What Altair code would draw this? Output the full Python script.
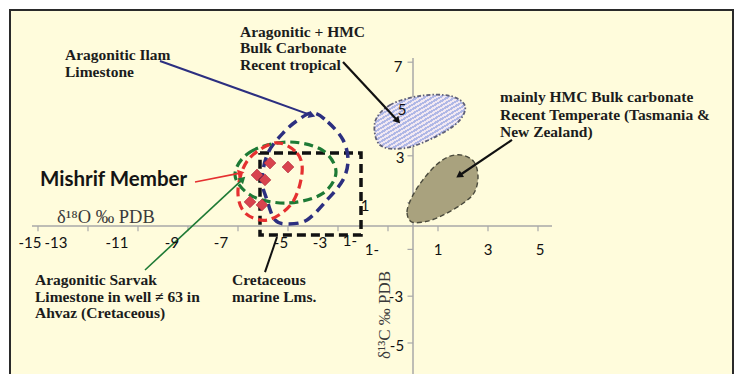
import altair as alt
import numpy as np
import pandas as pd

# ---- scale set-up (data units, axes cross at the origin) ----
W, H = 736, 374
X_DOMAIN = [-16.52, 12.92]
Y_DOMAIN = [-6.325, 9.658]
PX_X = W / (X_DOMAIN[1] - X_DOMAIN[0])
PX_Y = H / (Y_DOMAIN[1] - Y_DOMAIN[0])

xs = alt.Scale(domain=X_DOMAIN, nice=False, zero=False)
ys = alt.Scale(domain=Y_DOMAIN, nice=False, zero=False)

# ---- Mishrif Member samples (d18O, d13C) ----
mishrif_d18o = [-5.72, -5.00, -6.24, -5.92, -6.52, -6.04]
mishrif_d13c = [2.69, 2.52, 2.18, 1.97, 1.03, 0.90]

# ---- field outlines (d18O, d13C vertices) ----
ilam_x = [-4.0, -3.4, -2.8, -2.6, -2.8, -3.44, -4.24, -5.0, -5.52, -5.84, -6.04, -5.8, -5.2, -4.6]
ilam_y = [4.83, 4.44, 3.68, 2.82, 1.97, 1.11, 0.26, 0.09, 0.26, 1.11, 1.97, 3.12, 3.97, 4.53]

sarvak_x = [-7.12, -6.52, -5.04, -3.64, -3.08, -3.64, -5.04, -6.44]
sarvak_y = [2.18, 3.16, 3.59, 3.25, 2.31, 1.37, 0.98, 1.28]

mishrif_x = [-5.52, -4.64, -4.44, -4.84, -5.8, -6.72, -7.0, -6.6]
mishrif_y = [3.55, 3.12, 2.26, 0.98, 0.26, 0.56, 1.54, 2.82]

tropical_x = [-1.52, -0.92, 0.28, 1.48, 2.08, 1.8, 0.88, -0.32, -1.32]
tropical_y = [4.44, 5.17, 5.56, 5.56, 5.13, 4.44, 3.80, 3.33, 3.46]

temperate_x = [-0.04, -0.24, -0.04, 0.36, 0.88, 1.4, 1.96, 2.44, 2.6, 2.44, 1.96, 1.28, 0.6]
temperate_y = [0.17, 0.60, 1.24, 1.92, 2.56, 2.95, 3.03, 2.74, 2.09, 1.41, 0.94, 0.51, 0.21]

cretaceous_x = [-6.12, -2.08, -2.08, -6.12, -6.12]
cretaceous_y = [3.12, 3.12, -0.38, -0.38, 3.12]

# ---- tick labels ----
x_tick_text = ["-15", "-13", "-11", "-9", "-7", "-5", "-3", "1-", "1-", "1", "3", "5"]
x_tick_at = [-15.32, -14.28, -11.84, -9.64, -7.68, -5.28, -3.72, -2.52, -1.64, 1.0, 3.0, 5.08]
x_tick_row = [-0.73, -0.73, -0.73, -0.73, -0.73, -0.73, -0.73, -0.65, -1.03, -1.03, -1.03, -1.03]

y_tick_text = ["7", "5", "3", "1", "-3", "-5"]
y_tick_at = [6.79, 4.96, 2.91, 0.85, -3.03, -5.13]
y_tick_col = [-0.60, -0.44, -0.52, -1.92, -0.68, -0.64]

tick_x_values = [-15, -13, -11, -9, -7, -5, -3, -1, 1, 3, 5]
tick_y_values = [7, 5, 3, 1, -1, -3, -5]
TICK_LEN = 0.22

# ---- annotations ----
note_lines = [
    "Aragonitic Ilam", "Limestone",
    "Aragonitic + HMC", "Bulk Carbonate", "Recent tropical",
    "mainly HMC Bulk carbonate", "Recent Temperate (Tasmania &", "New Zealand)",
    "Aragonitic Sarvak", "Limestone in well \u2260  63 in", "Ahvaz (Cretaceous)",
    "Cretaceous", "marine Lms.",
]
note_x = [-13.92, -13.92, -6.92, -6.92, -6.92, 3.48, 3.48, 3.48,
          -15.12, -15.12, -15.12, -7.24, -7.24]
note_y = [7.31, 6.58, 8.29, 7.61, 6.88, 5.51, 4.74, 4.02,
          -2.31, -3.03, -3.72, -2.31, -3.03]

# arrows: start -> end, colour, head
arrow_x1 = [-10.12, -2.80, 3.96, -8.72, -10.72, -5.92]
arrow_y1 = [7.05, 7.01, 3.68, 1.88, -1.88, -1.97]
arrow_x2 = [-4.08, -0.64, 1.88, -6.92, -6.84, -5.44]
arrow_y2 = [4.74, 4.53, 2.18, 2.26, 1.97, -0.47]
arrow_col = ["#2c2f80", "#111111", "#111111", "#e53030", "#1e7a35", "#111111"]
arrow_w = [2.0, 2.2, 2.2, 1.6, 1.6, 2.0]
arrow_head = [1, 1, 1, 1, 1, 0]


def X(field):
    return alt.X(field, type="quantitative", scale=xs, axis=None)


def Y(field):
    return alt.Y(field, type="quantitative", scale=ys, axis=None)


def outline(xv, yv, color, dash, width, fill=None, closed=True):
    df = pd.DataFrame({"x": xv, "y": yv, "o": list(range(len(xv)))})
    kw = dict(color=color, strokeDash=dash, strokeWidth=width,
              interpolate="cardinal-closed" if closed else "linear")
    if fill is not None:
        kw["fill"] = fill
    return alt.Chart(df).mark_line(**kw).encode(x=X("x"), y=Y("y"), order="o:Q")


# diagonal hatching for the tropical field: a striped linear gradient
HATCH_PERIODS = 24
hatch_stops = []
for k in range(HATCH_PERIODS):
    a = k / HATCH_PERIODS
    b = (k + 0.5) / HATCH_PERIODS
    c = (k + 1) / HATCH_PERIODS
    hatch_stops += [
        alt.GradientStop(offset=a, color="#b0b8e6"),
        alt.GradientStop(offset=b, color="#b0b8e6"),
        alt.GradientStop(offset=b, color="#f1e8f2"),
        alt.GradientStop(offset=c, color="#f1e8f2"),
    ]
hatch = alt.LinearGradient(gradient="linear", x1=0, y1=0, x2=1, y2=1, stops=hatch_stops)

frame_df = pd.DataFrame({"x": [X_DOMAIN[0]], "x2": [X_DOMAIN[1]],
                         "y": [Y_DOMAIN[1]], "y2": [Y_DOMAIN[0]]})
frame = alt.Chart(frame_df).mark_rect(fill="#fffcdc", stroke="#2a2a2a", strokeWidth=2).encode(
    x=alt.value(10), x2=alt.value(733), y=alt.value(10), y2=alt.value(400)
)

axes_df = pd.DataFrame({
    "x": [-15.24, 0.0], "x2": [5.56, 0.0],
    "y": [0.0, 7.18], "y2": [0.0, -6.6],
})
axes = alt.Chart(axes_df).mark_rule(color="#a9a9a9", strokeWidth=1.5).encode(
    x=X("x"), x2="x2:Q", y=Y("y"), y2="y2:Q",
)

xt = pd.DataFrame({"x": tick_x_values, "y": [0.0] * len(tick_x_values),
                   "y2": [-TICK_LEN] * len(tick_x_values)})
xticks = alt.Chart(xt).mark_rule(color="#a9a9a9", strokeWidth=1.2).encode(
    x=X("x"), y=Y("y"), y2="y2:Q",
)
yt = pd.DataFrame({"y": tick_y_values, "x": [0.0] * len(tick_y_values),
                   "x2": [-TICK_LEN] * len(tick_y_values)})
yticks = alt.Chart(yt).mark_rule(color="#a9a9a9", strokeWidth=1.2).encode(
    y=Y("y"), x=X("x"), x2="x2:Q",
)

xlab = alt.Chart(pd.DataFrame({"x": x_tick_at, "y": x_tick_row, "t": x_tick_text})).mark_text(
    font="Lato", fontSize=15, color="#111111", baseline="middle", align="center"
).encode(x=X("x"), y=Y("y"), text="t:N")

ylab = alt.Chart(pd.DataFrame({"x": y_tick_col, "y": y_tick_at, "t": y_tick_text})).mark_text(
    font="Lato", fontSize=15, color="#111111", baseline="middle", align="center"
).encode(x=X("x"), y=Y("y"), text="t:N")

tropical = outline(tropical_x, tropical_y, "#5e5f78", [4, 2, 1.5, 2], 1.8, fill=hatch)
temperate = outline(temperate_x, temperate_y, "#4a4a3c", [5, 3], 1.4, fill="#a9a27e")
cretaceous = outline(cretaceous_x, cretaceous_y, "#111111", [9, 5], 3.5, closed=False)
ilam = outline(ilam_x, ilam_y, "#2c2f80", [10, 6], 3.5)
sarvak = outline(sarvak_x, sarvak_y, "#1e7a35", [9, 5], 3.2)
mishrif = outline(mishrif_x, mishrif_y, "#e53030", [9, 5], 3.2)

pts = alt.Chart(pd.DataFrame({"x": mishrif_d18o, "y": mishrif_d13c})).mark_point(
    shape="diamond", filled=True, size=140, fill="#d8444e", stroke="#a8283a",
    strokeWidth=0.6, opacity=1
).encode(x=X("x"), y=Y("y"))

arr = pd.DataFrame({"x1": arrow_x1, "y1": arrow_y1, "x2": arrow_x2, "y2": arrow_y2,
                    "c": arrow_col, "w": arrow_w, "head": arrow_head})
dx = (arr["x2"] - arr["x1"]) * PX_X
dy = -(arr["y2"] - arr["y1"]) * PX_Y
arr["ang"] = ((np.degrees(np.arctan2(dx, -dy)) + 360) % 360).round(2)

arrow_lines = alt.Chart(arr).mark_rule().encode(
    x=X("x1"), y=Y("y1"), x2="x2:Q", y2="y2:Q",
    color=alt.Color("c:N", scale=None), strokeWidth=alt.StrokeWidth("w:Q", scale=None),
)
heads = arr[arr["head"] == 1].reset_index(drop=True)
arrow_heads = alt.Chart(heads).mark_point(
    shape="triangle", filled=True, size=60, opacity=1
).encode(
    x=X("x2"), y=Y("y2"),
    color=alt.Color("c:N", scale=None), angle=alt.Angle("ang:Q", scale=None),
)

notes = alt.Chart(pd.DataFrame({"x": note_x, "y": note_y, "t": note_lines})).mark_text(
    font="Liberation Serif", fontSize=15.5, fontWeight="bold", color="#1c1c1c",
    align="left", baseline="middle"
).encode(x=X("x"), y=Y("y"), text="t:N")

mishrif_title = alt.Chart(pd.DataFrame({"x": [-14.92], "y": [1.97], "t": ["Mishrif Member"]})).mark_text(
    font="Lato", fontSize=20.5, fontWeight="bold", color="#141414", align="left", baseline="middle"
).encode(x=X("x"), y=Y("y"), text="t:N")

xtitle = alt.Chart(pd.DataFrame({"x": [-14.24], "y": [0.38], "t": ["\u03b4\u00b9\u2078O \u2030 PDB"]})).mark_text(
    font="Liberation Serif", fontSize=18.5, color="#3a3a3a", align="left", baseline="middle"
).encode(x=X("x"), y=Y("y"), text="t:N")

ytitle = alt.Chart(pd.DataFrame({"x": [-1.12], "y": [-3.80], "t": ["\u03b4\u00b9\u00b3C \u2030 PDB"]})).mark_text(
    font="Liberation Serif", fontSize=17, color="#3a3a3a", align="center", baseline="middle", angle=270
).encode(x=X("x"), y=Y("y"), text="t:N")

chart = alt.layer(
    frame, axes, xticks, yticks,
    tropical, temperate, cretaceous, ilam, sarvak, mishrif, pts,
    arrow_lines, arrow_heads,
    xlab, ylab, notes, mishrif_title, xtitle, ytitle,
).properties(
    width=W, height=H, padding=0, autosize="none", background="white"
).configure_view(stroke=None)

chart.save("out.html", embed_options={"renderer": "svg", "actions": False})
